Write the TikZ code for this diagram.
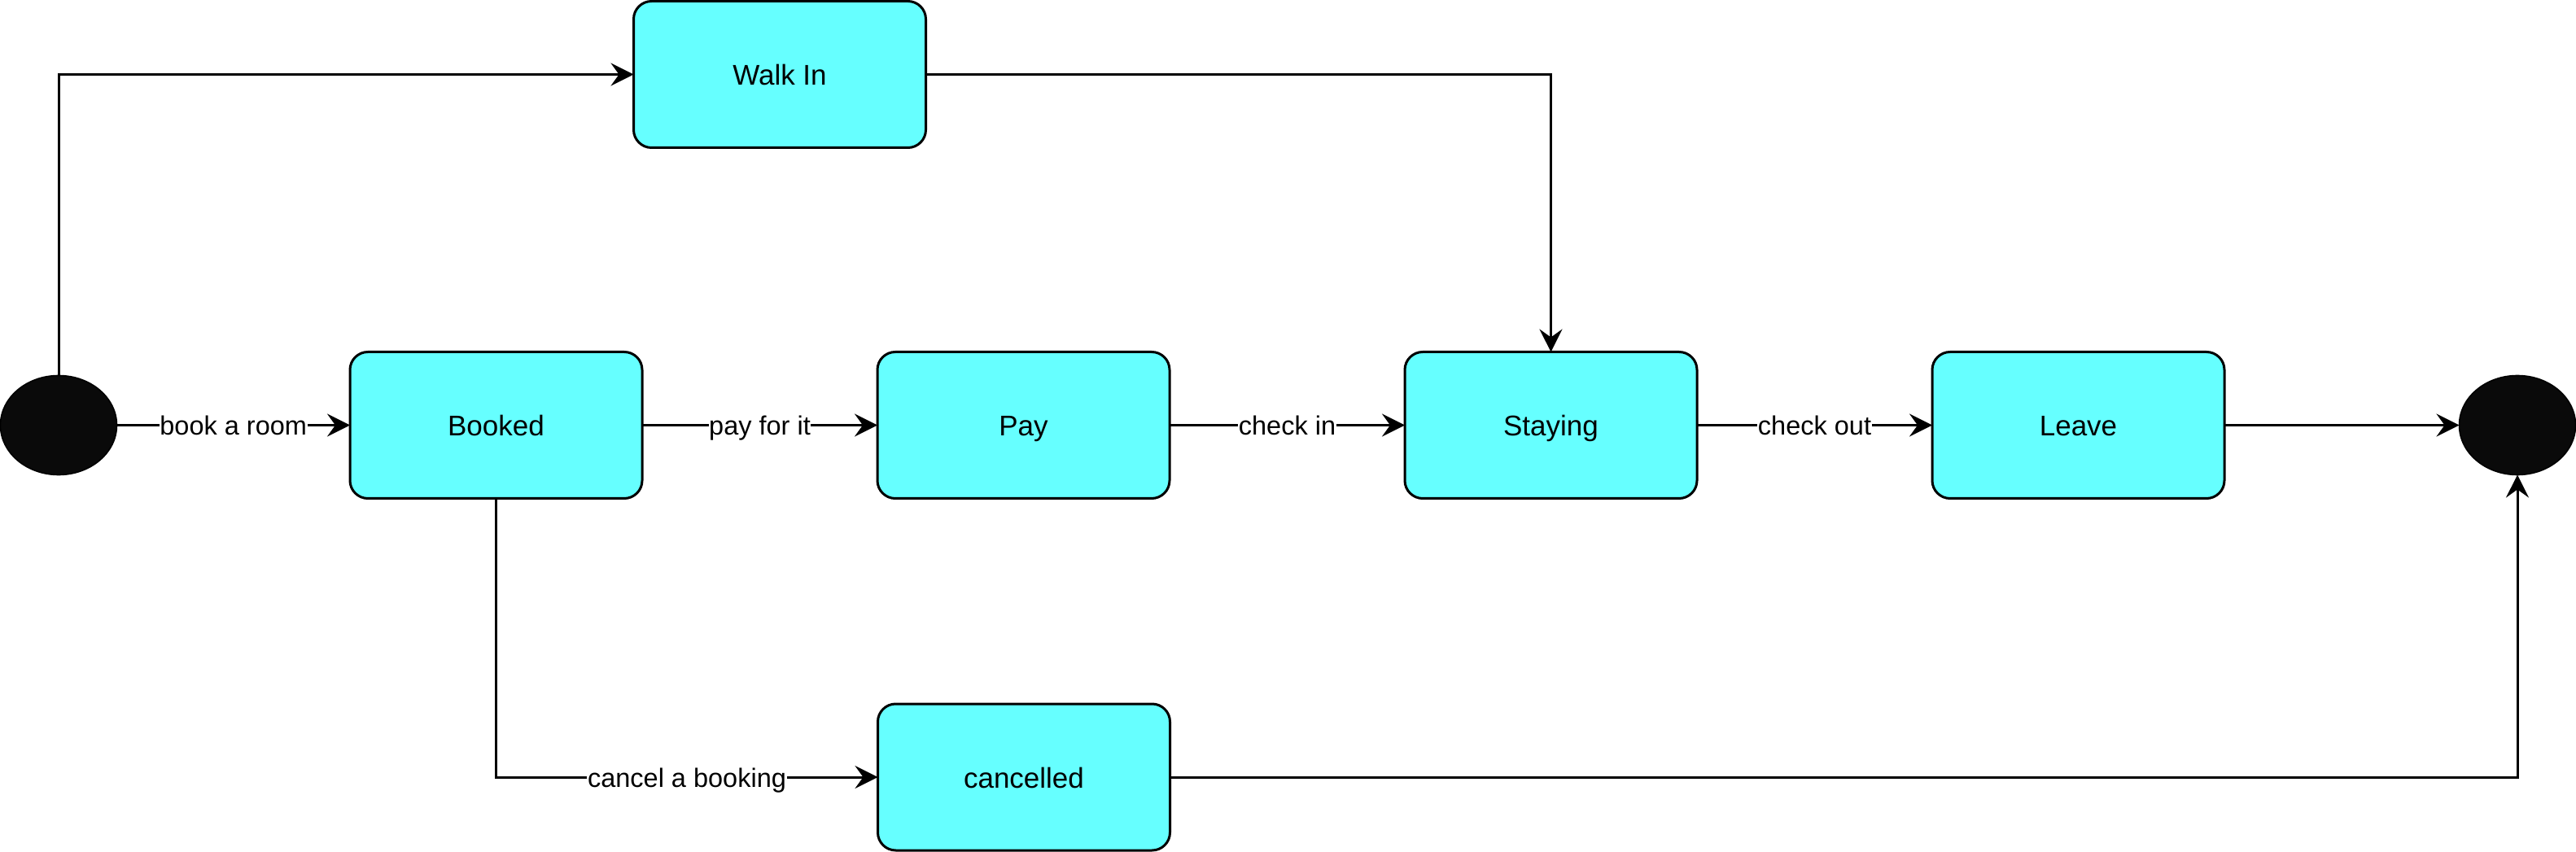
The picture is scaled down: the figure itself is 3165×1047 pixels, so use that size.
\documentclass[tikz,border=0pt]{standalone}
\usepackage{fontspec}
\setmainfont{Liberation Sans}
\usetikzlibrary{arrows.meta,shapes.geometric}
\definecolor{boxfill}{HTML}{66FFFF}
\definecolor{dot}{HTML}{0A0A0A}
\begin{document}
\begin{tikzpicture}[x=0.5pt,y=-0.5pt,
  state/.style={draw=black,line width=1.5pt,fill=boxfill,rounded corners=11pt,
    minimum width=179.5pt,minimum height=90pt,inner sep=0pt,outer sep=0pt,
    text height=13.5pt,text depth=0pt,
    font=\fontsize{17.5}{21}\selectfont},
  term/.style={ellipse,draw=black,line width=0.8pt,fill=dot,minimum width=71.5pt,
    minimum height=61pt,inner sep=0pt,outer sep=0pt},
  conn/.style={line width=1.5pt,-{Stealth[length=14pt,width=14pt,inset=5pt]}},
  lbl/.style={fill=white,inner xsep=0.3pt,inner ysep=2pt,text height=12.2pt,text depth=0pt,
    font=\fontsize{16.25}{19}\selectfont}]
\useasboundingbox (0,0) rectangle (3165,1047);
\node[term] (start) at (72,522.5) {};
\node[term] (end) at (3093,522.5) {};
\node[state] (walk) at (958,91.5) {Walk In};
\node[state] (booked) at (609.5,522.5) {Booked};
\node[state] (pay) at (1257.5,522.5) {Pay};
\node[state] (staying) at (1905.5,522.5) {Staying};
\node[state] (leave) at (2553.5,522.5) {Leave};
\node[state] (cancelled) at (1258,955) {cancelled};
\draw[conn] (start.north) |- (walk.west);
\draw[conn] (walk.east) -| (staying.north);
\draw[conn] (start.east) -- node[lbl] {book a room} (booked.west);
\draw[conn] (booked.east) -- node[lbl] {pay for it} (pay.west);
\draw[conn] (pay.east) -- node[lbl] {check in} (staying.west);
\draw[conn] (staying.east) -- node[lbl] {check out} (leave.west);
\draw[conn] (leave.east) -- (end.west);
\draw[conn] (booked.south) |- node[lbl,pos=0.75] {cancel a booking} (cancelled.west);
\draw[conn] (cancelled.east) -| (end.south);
\end{tikzpicture}
\end{document}
